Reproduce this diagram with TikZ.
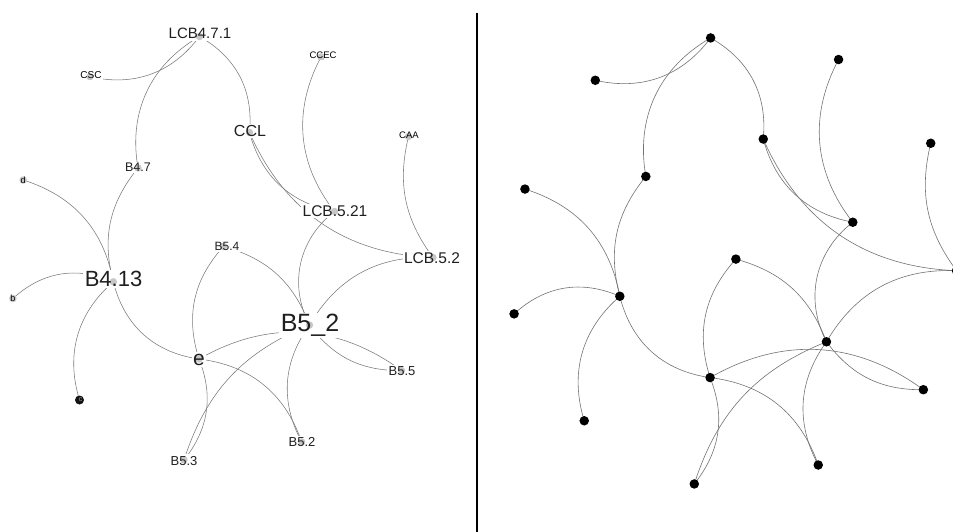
\documentclass[tikz,border=0pt]{standalone}
\usepackage{fontspec}
\setmainfont{Liberation Sans}
\tikzset{
  ledge/.style={draw=black!52, line width=0.55pt},
  redge/.style={draw=black!55, line width=0.6pt},
  gdot/.style={circle, fill=black!22, minimum size=7.5pt, inner sep=0pt},
  bdot/.style={circle, fill=black, minimum size=9.5pt, inner sep=0pt},
  fs/.style={font=\fontsize{#1}{#1}\selectfont},
  lbl/.style={anchor=base, fill=white, inner sep=1.5pt, text=black!88,
    path picture={\fill[black!22] (#1) circle (3.7pt);}},
  small/.style={anchor=base, inner sep=0pt, text=black},
}
\newcommand\placecoords[1]{%
  \coordinate (#1lcb) at (199.5,36.5);
  \coordinate (#1csc) at (90,76.7);
  \coordinate (#1ccec) at (321,57);
  \coordinate (#1ccl) at (249.5,132.5);
  \coordinate (#1caa) at (408.5,136.5);
  \coordinate (#1bfs) at (138,168);
  \coordinate (#1d) at (23.2,180);
  \coordinate (#1lbf) at (334.5,211.5);
  \coordinate (#1bff) at (223.5,246.5);
  \coordinate (#1lbt) at (433,257.5);
  \coordinate (#1bft) at (113.3,281.8);
  \coordinate (#1b) at (12.9,298.5);
  \coordinate (#1e) at (199,359);
  \coordinate (#1bu) at (309.5,325);
  \coordinate (#1bffv) at (401.5,370.5);
  \coordinate (#1c) at (79.5,400);
  \coordinate (#1bftw) at (301.7,442);
  \coordinate (#1bfth) at (184,460);
}
\newcommand\alledges[2]{%
  \draw[#2] (#1csc) to[bend right=33] (#1lcb);
  \draw[#2] (#1lcb) to[bend right=35] (#1bfs);
  \draw[#2] (#1lcb) to[bend left=33] (#1ccl);
  \draw[#2] (#1ccl) to[bend right=32] (#1lbf);
  \draw[#2] (#1ccl) to[bend right=32] (#1lbt);
  \draw[#2] (#1ccec) to[bend right=33] (#1lbf);
  \draw[#2] (#1caa) to[bend right=25] (#1lbt);
  \draw[#2] (#1bfs) to[bend right=27] (#1bft);
  \draw[#2] (#1d) to[bend left=31] (#1bft);
  \draw[#2] (#1b) to[bend left=33] (#1bft);
  \draw[#2] (#1c) to[bend left=33] (#1bft);
  \draw[#2] (#1bft) to[bend right=34] (#1e);
  \draw[#2] (#1lbf) to[bend right=40] (#1bu);
  \draw[#2] (#1lbt) to[bend right=31] (#1bu);
  \draw[#2] (#1bff) to[bend left=27] (#1bu);
  \draw[#2] (#1bff) to[bend right=30] (#1e);
  \draw[#2] (#1e) to[bend left=33] (#1bffv);
  \draw[#2] (#1bu) to[bend right=27] (#1bffv);
  \draw[#2] (#1e) to[bend left=32] (#1bftw);
  \draw[#2] (#1e) to[bend left=30] (#1bfth);
  \draw[#2] (#1bu) to[bend right=25] (#1bfth);
  \draw[#2] (#1bu) to[bend right=32] (#1bftw);
}
\begin{document}
\begin{tikzpicture}[x=1pt,y=-1pt]
\useasboundingbox (0,0) rectangle (953,532);
\fill[white] (0,0) rectangle (953,532);
\clip (0,0) rectangle (953,532);
% left panel
\begin{scope}
  \placecoords{L}
  \alledges{L}{ledge}
  \node[gdot] (Ld-dot) at (Ld) {};
  \node[gdot] (Lb-dot) at (Lb) {};
  \node[circle, fill=black!92, minimum size=9pt, inner sep=0pt] (Lc-dot) at (Lc) {};
  \node[small, fs=9] (Ld-t) at (23.2,183.5) {d};
  \node[small, fs=9] (Lb-t) at (12.9,301.8) {b};
  \node[anchor=center, inner sep=0pt, text=black!40, fs=7] (Lc-t) at (80.5,399.5) {c};
  \node[lbl=Llcb, fs=15] (Llcb-t) at (200,39) {LCB4.7.1};
  \node[lbl=Lcsc, fs=10, text=black] (Lcsc-t) at (91,78.3) {CSC};
  \node[lbl=Lccec, fs=9.5, text=black] (Lccec-t) at (323,58.3) {CCEC};
  \node[lbl=Lccl, fs=16] (Lccl-t) at (250,136.7) {CCL};
  \node[lbl=Lcaa, fs=9.5, text=black] (Lcaa-t) at (409,138.7) {CAA};
  \node[lbl=Lbfs, fs=12.5] (Lbfs-t) at (138,171.7) {B4.7};
  \node[lbl=Llbf, fs=15.5] (Llbf-t) at (335,216.7) {LCB.5.21};
  \node[lbl=Lbff, fs=12] (Lbff-t) at (227,250) {B5.4};
  \node[lbl=Llbt, fs=15.5] (Llbt-t) at (432,263.3) {LCB.5.2};
  \node[lbl=Lbft, fs=22] (Lbft-t) at (113.5,286.7) {B4.13};
  \node[lbl=Le, fs=21] (Le-t) at (199,365) {e};
  \node[lbl=Lbu, fs=25] (Lbu-t) at (310,331.7) {B5\_2};
  \node[lbl=Lbffv, fs=13] (Lbffv-t) at (402,375) {B5.5};
  \node[lbl=Lbftw, fs=13] (Lbftw-t) at (302,446.7) {B5.2};
  \node[lbl=Lbfth, fs=13] (Lbfth-t) at (184,465) {B5.3};
\end{scope}
% divider
\coordinate (divtop) at (477,13.5);
\coordinate (divbot) at (477,532);
\draw[line width=2pt] (divtop) -- (divbot);
% right panel
\begin{scope}[shift={(500.5,-0.5)}, scale=1.053]
  \placecoords{R}
  \alledges{R}{redge}
  \foreach \n in {lcb,csc,ccec,ccl,caa,bfs,d,lbf,bff,lbt,bft,b,e,bu,bffv,c,bftw,bfth}
    \node[bdot] (R\n-dot) at (R\n) {};
\end{scope}
\end{tikzpicture}
\end{document}
